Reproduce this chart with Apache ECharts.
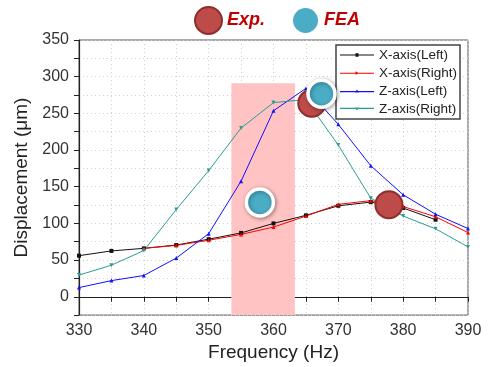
<!DOCTYPE html>
<html>
<head>
<meta charset="utf-8">
<script src="https://cdn.jsdelivr.net/npm/echarts@6/dist/echarts.min.js"></script>
<style>html,body{margin:0;padding:0;background:#fff;}#c{width:488px;height:367px;}</style>
</head>
<body>
<div id="c"></div>
<script>
var freq = [330, 335, 340, 345, 350, 355, 360, 365, 370, 375, 380, 385, 390];
var xLeft  = [56, 62.5, 66, 70.5, 78.5, 87, 100, 111, 124, 129, 121, 105, null];
var xRight = [null, null, 66, 70, 77, 85, 95, 110, 126, 131, 123, 109, 87.5];
var zLeft  = [12.5, 22, 29, 52.7, 86, 157.6, 253.6, 284, 235, 178.6, 139, 112.5, 93];
var zRight = [29.5, 43, 63, 118.8, 172, 230, 264.7, 268.8, 206.7, 134.4, 110, 92.6, 68];
var expPts = [[365.9, 263.8], [377.8, 125.4]];
var feaPts = [[367.4, 276.8], [357.9, 128.6]];
var band = [353.5, 363.3, 291];
var lineNames = ['X-axis(Left)', 'X-axis(Right)', 'Z-axis(Left)', 'Z-axis(Right)'];

function pairs(arr) {
  var out = [];
  for (var i = 0; i < freq.length; i++) if (arr[i] !== null) out.push([freq[i], arr[i]]);
  return out;
}

var font = 'Liberation Sans, Arial, sans-serif';
var chart = echarts.init(document.getElementById('c'), null, {renderer: 'canvas'});

function lineSeries(name, data, color, symbol) {
  return {
    name: name, type: 'line', data: pairs(data), z: 3,
    symbol: symbol, symbolSize: 4, showSymbol: true,
    lineStyle: {color: color, width: 1},
    itemStyle: {color: color},
    emphasis: {disabled: true}, animation: false
  };
}

// legend icons: a thin line with a small marker in the middle
var iconRect = 'path://M0,4.4 L34,4.4 L34,5.6 L0,5.6 Z M15.5,3.2 L18.5,3.2 L18.5,6.8 L15.5,6.8 Z';
var iconTri = 'path://M0,4.4 L34,4.4 L34,5.6 L0,5.6 Z M15.5,3 L19,5 L15.5,6.5 Z';
var iconUp = 'path://M0,4.4 L34,4.4 L34,5.6 L0,5.6 Z M15,6 L17,2.8 L19,6 Z';
var iconDown = 'path://M0,4.4 L34,4.4 L34,5.6 L0,5.6 Z M14.8,4 L19.2,4 L17,7.2 Z';

chart.setOption({
  animation: false,
  textStyle: {fontFamily: font},
  grid: {left: 79, right: 20, top: 40, bottom: 48, show: true, borderColor: '#555', borderWidth: 1, backgroundColor: 'transparent'},
  legend: [
    {
      data: ['Exp.', 'FEA'], orient: 'horizontal', left: 194, top: 6,
      itemWidth: 27, itemHeight: 27, itemGap: 26, padding: 0,
      textStyle: {color: '#c00000', fontSize: 18, fontWeight: 'bold', fontStyle: 'italic', fontFamily: font}
    },
    {
      data: [
        {name: lineNames[0], icon: iconRect},
        {name: lineNames[1], icon: iconTri},
        {name: lineNames[2], icon: iconUp},
        {name: lineNames[3], icon: iconDown}
      ],
      orient: 'vertical', left: 336, top: 45,
      itemWidth: 34, itemHeight: 13, itemGap: 4, padding: [3, 3, 3, 4],
      backgroundColor: '#fff', borderColor: '#444', borderWidth: 1.5,
      textStyle: {color: '#222', fontSize: 13.5, fontFamily: font}
    }
  ],
  xAxis: {
    type: 'value', min: 330, max: 390, interval: 5,
    name: 'Frequency (Hz)', nameLocation: 'middle', nameGap: 27,
    nameTextStyle: {fontSize: 19, color: '#222', fontFamily: font},
    axisLine: {show: true, lineStyle: {color: '#222', width: 1.2}},
    axisTick: {show: true, length: 5, lineStyle: {color: '#222'}},
    axisLabel: {fontSize: 16, color: '#333', margin: 7, formatter: function (v) { return v % 10 === 0 ? String(v) : ''; }},
    splitLine: {show: true, lineStyle: {color: '#d0d0d0', type: [1, 3], width: 1}}
  },
  yAxis: {
    type: 'value', min: -25, max: 350, interval: 25,
    name: 'Displacement (\u03bcm)', nameLocation: 'middle', nameGap: 44,
    nameTextStyle: {fontSize: 19, color: '#222', fontFamily: font},
    axisLine: {show: true, lineStyle: {color: '#222', width: 1.2}},
    axisTick: {show: true, length: 5, lineStyle: {color: '#222'}},
    axisLabel: {fontSize: 16, color: '#333', margin: 10, formatter: function (v) { return v % 50 === 0 ? String(v) : ''; }},
    splitLine: {show: true, lineStyle: {color: '#d0d0d0', type: [1, 3], width: 1}}
  },
  series: [
    {
      name: 'band', type: 'line', data: [], z: 1, silent: true,
      markArea: {
        silent: true,
        itemStyle: {color: '#ffc3c3'},
        data: [[{xAxis: band[0], yAxis: -25}, {xAxis: band[1], yAxis: band[2]}]]
      }
    },
    lineSeries(lineNames[0], xLeft, '#111111', 'rect'),
    lineSeries(lineNames[1], xRight, '#ff0000', 'triangle'),
    lineSeries(lineNames[2], zLeft, '#1010ff', 'triangle'),
    lineSeries(lineNames[3], zRight, '#2a9d95', 'path://M0,0 L10,0 L5,10 Z'),
    {
      name: 'Exp.', type: 'scatter', data: expPts, z: 5,
      symbol: 'circle', symbolSize: 27,
      itemStyle: {color: '#bd4b49', opacity: 1, borderColor: '#8e2f2d', borderWidth: 2},
      emphasis: {disabled: true}
    },
    {
      name: 'FEA', type: 'scatter', data: feaPts, z: 6,
      symbol: 'circle', symbolSize: 27,
      itemStyle: {color: '#4aacc5', opacity: 1, borderColor: '#ffffff', borderWidth: 3.5, shadowColor: 'rgba(0,0,0,0.35)', shadowBlur: 4, shadowOffsetX: 1, shadowOffsetY: 1},
      emphasis: {disabled: true}
    }
  ]
});
</script>
</body>
</html>
